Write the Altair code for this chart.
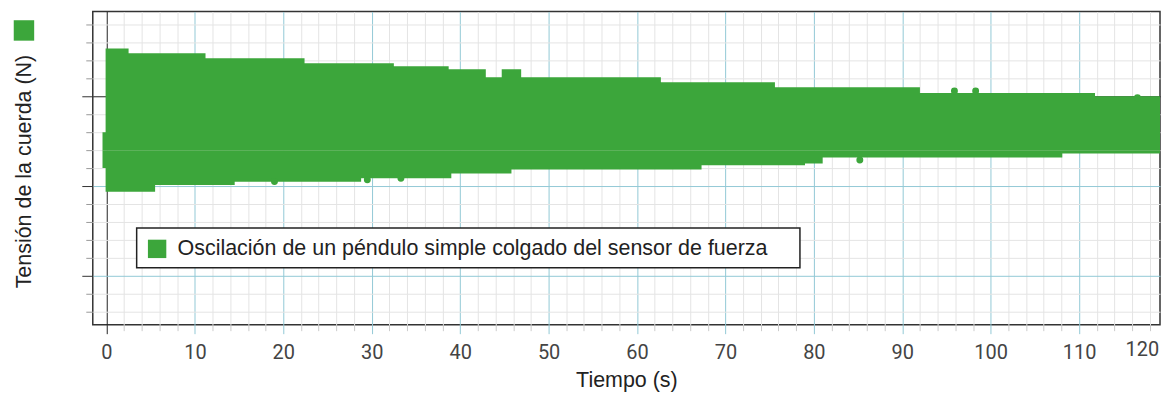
import altair as alt
import pandas as pd

series_name = "Oscilación de un péndulo simple colgado del sensor de fuerza"
x_title = "Tiempo (s)"
y_title = "Tensión de la cuerda (N)"

# upper edge of the point cloud (time s, tension N), step-wise
top_t = [-0.45, -0.1, 2.5, 11.2, 22.4, 32.5, 38.7, 42.9, 44.7, 46.9, 62.7, 75.6, 92.0, 111.8, 119.4]
top_v = [2.60, 3.533, 3.478, 3.422, 3.367, 3.333, 3.30, 3.211, 3.30, 3.211, 3.156, 3.10, 3.037, 3.0, 3.0]

# lower edge of the point cloud
bottom_t = [-0.45, -0.1, 5.5, 14.5, 28.8, 39.0, 45.8, 67.3, 79.0, 81.0, 108.1, 119.4]
bottom_v = [2.20, 1.937, 2.011, 2.048, 2.086, 2.141, 2.183, 2.233, 2.252, 2.319, 2.363, 2.363]

# isolated samples sticking out of the band
dot_t = [19.0, 29.5, 33.3, 85.2, 95.9, 98.3, 116.6]
dot_v = [2.05, 2.07, 2.087, 2.291, 3.058, 3.058, 2.983]

band_mid = 2.4  # a level inside the band for both halves

x_ticks = list(range(0, 119, 2)) + [117.1]
y_ticks = [round(0.6 + 0.2 * i, 1) for i in range(17)]
LAST = "abs(datum.value - 117.1) < 0.01"

GREEN = "#3ca63b"
BLUE = "#93c9d6"
MINOR = "#e4e4e4"
DARK = "#222222"

x_scale = alt.Scale(domain=[-1.55, 119.15], nice=False, zero=False)
y_scale = alt.Scale(domain=[0.456, 3.944], nice=False, zero=False)

x_axis = alt.Axis(
    values=x_ticks,
    title=x_title,
    grid=True,
    gridColor={"condition": [{"test": "datum.value == 0", "value": DARK},
                             {"test": "datum.value % 10 == 0", "value": BLUE}],
               "value": MINOR},
    gridOpacity={"condition": {"test": LAST, "value": 0}, "value": 1},
    gridWidth=1,
    tickColor={"condition": [{"test": "datum.value == 0", "value": DARK},
                             {"test": "datum.value % 10 == 0", "value": BLUE}],
               "value": "#cccccc"},
    tickOpacity={"condition": {"test": LAST, "value": 0}, "value": 1},
    tickSize={"condition": {"test": "datum.value % 10 == 0", "value": 9}, "value": 6},
    labelExpr="abs(datum.value - 117.1) < 0.01 ? '120' : (datum.value % 10 == 0 ? datum.label : '')",
    labelOverlap=False,
    labelFlush=False,
    labelBound=False,
    labelFont="Roboto",
    labelFontSize=20,
    labelColor="#444444",
    labelPadding=9,
    domain=False,
    titleFont="Liberation Sans",
    titleFontSize=21.5,
    titleFontWeight="normal",
    titleColor=DARK,
    titleY=56,
    titleBaseline="middle",
)

y_axis = alt.Axis(
    values=y_ticks,
    title=y_title,
    labels=False,
    grid=True,
    gridColor={"condition": [{"test": "abs(datum.value - 3) < 0.01", "value": DARK},
                             {"test": "abs(datum.value - round(datum.value)) < 0.01", "value": BLUE}],
               "value": MINOR},
    gridWidth=1,
    tickColor={"condition": {"test": "abs(datum.value - round(datum.value)) < 0.01", "value": "#333333"},
               "value": "#999999"},
    tickSize={"condition": {"test": "abs(datum.value - round(datum.value)) < 0.01", "value": 11},
              "value": 7},
    domain=False,
    titleFont="Liberation Sans",
    titleFontSize=21.5,
    titleFontWeight="normal",
    titleColor=DARK,
    titleAngle=270,
    titleX=-68,
    titleY=160,
    titleAlign="center",
    titleBaseline="middle",
)

x_enc = alt.X("t:Q", scale=x_scale, axis=x_axis)
y_enc = alt.Y("v:Q", scale=y_scale, axis=y_axis)

df_top = pd.DataFrame({"t": top_t, "v": top_v, "m": [band_mid] * len(top_t)})
df_bot = pd.DataFrame({"t": bottom_t, "v": bottom_v, "m": [band_mid] * len(bottom_t)})
df_dot = pd.DataFrame({"t": dot_t, "v": dot_v})

area_top = alt.Chart(df_top).mark_area(interpolate="step-after", color=GREEN, opacity=1, clip=True).encode(
    x=x_enc, y=y_enc, y2="m:Q")
area_bot = alt.Chart(df_bot).mark_area(interpolate="step-after", color=GREEN, opacity=1, clip=True).encode(
    x=x_enc, y=y_enc, y2="m:Q")
dots = alt.Chart(df_dot).mark_circle(size=48, color=GREEN, opacity=1, clip=True).encode(x=x_enc, y=y_enc)

lab = alt.Data(values=[{"label": series_name}])
legend_box = alt.Chart(lab).mark_rect(fill="white", stroke=DARK, strokeWidth=1.5).encode(
    x=alt.value(44), x2=alt.value(709), y=alt.value(217), y2=alt.value(257))
legend_sym = alt.Chart(lab).mark_square(size=340, color=GREEN, opacity=1).encode(
    x=alt.value(64.5), y=alt.value(238))
legend_txt = alt.Chart(lab).mark_text(align="left", baseline="middle", font="Liberation Sans",
                                      fontSize=21.5, color=DARK).encode(
    x=alt.value(85), y=alt.value(238.5), text="label:N")
title_sym = alt.Chart(lab).mark_square(size=420, color=GREEN, opacity=1).encode(
    x=alt.value(-69), y=alt.value(19))

chart = alt.layer(area_top, area_bot, dots, legend_box, legend_sym, legend_txt, title_sym).properties(
    width=1070, height=314,
    autosize=alt.AutoSizeParams(type="none"),
    padding={"left": 85, "top": 3, "right": 2, "bottom": 75},
    background="white",
).configure_view(stroke="#333333", strokeWidth=1.5)

chart.save("out.html", embed_options={"renderer": "svg", "actions": False})
